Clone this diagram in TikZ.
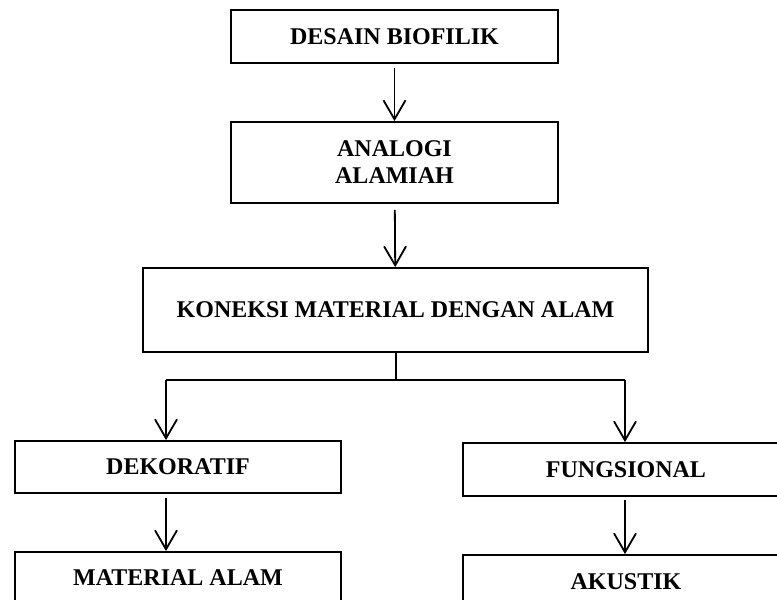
\documentclass[tikz,border=0pt]{standalone}
\usepackage{fontspec}
\setmainfont{Liberation Serif}
\usetikzlibrary{arrows.meta}
\begin{document}
\begin{tikzpicture}[x=1pt,y=-1pt,
  box/.style={draw,line width=1.8pt,rectangle,inner sep=0pt,align=center,
    font=\fontsize{24}{27}\selectfont\bfseries},
  arr/.style={line width=1.8pt,-{Straight Barb[length=19pt,width=22pt,line width=1.8pt]}},
  ln/.style={line width=1.8pt}]
\clip (0,0) rectangle (777,600);
\fill[white] (0,0) rectangle (777,600);
\node[box,minimum width=327pt,minimum height=53pt] (b1) at (394.5,36.5) {DESAIN BIOFILIK};
\node[box,minimum width=327pt,minimum height=81pt] (b2) at (394.5,162.5) {ANALOGI\\ALAMIAH};
\node[box,minimum width=505pt,minimum height=84pt] (b3) at (395.5,310) {KONEKSI MATERIAL DENGAN ALAM};
\node[box,minimum width=326pt,minimum height=52pt] (dek) at (178,467) {DEKORATIF};
\node[box,minimum width=326pt,minimum height=52pt] (mat) at (178,578) {MATERIAL ALAM};
\node[box,minimum width=326pt,minimum height=53pt] (fun) at (626,469.5) {FUNGSIONAL};
\node[box,minimum width=326pt,minimum height=54pt] (aku) at (626,582) {AKUSTIK};
\coordinate (jm) at (396,380);
\coordinate (jl) at (166,380);
\coordinate (jr) at (625,380);
\draw[arr,shorten <=4pt] (b1) -- (b2);
\draw[arr,shorten <=6pt] (b2) -- (b3);
\draw[ln] (b3.south -| jm) -- (jm);
\draw[ln] (jl) -- (jr);
\draw[arr] (jl) -- (jl |- dek.north);
\draw[arr] (jr) -- (jr |- fun.north);
\draw[arr,shorten <=4pt] (dek.south -| jl) -- (mat.north -| jl);
\draw[arr,shorten <=3pt] (fun.south -| jr) -- (aku.north -| jr);
\end{tikzpicture}
\end{document}
